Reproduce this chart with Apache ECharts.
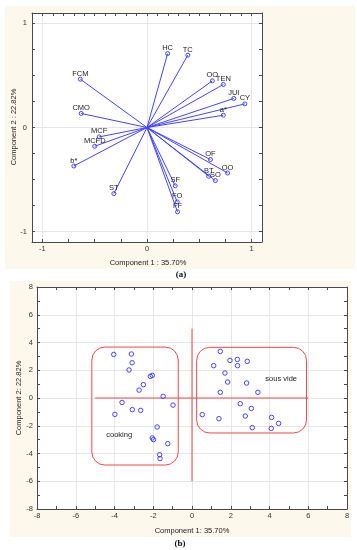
<!DOCTYPE html>
<html><head><meta charset="utf-8">
<script src="https://cdn.jsdelivr.net/npm/echarts@6/dist/echarts.min.js"></script>
<style>html,body{margin:0;padding:0;background:#fff}#c{width:357px;height:550px}</style>
</head><body><div id="c"></div>
<script>
// ---- Panel (a): loadings ----
const loadingNames = ['HC','TC','OO','TEN','JUI','CY','a*','FCM','CMO','MCF','MCFD','b*','ST','SF','FO','FF','OF','OO','BT','SO'];
const loadingX = [0.197,0.39,0.625,0.73,0.83,0.936,0.73,-0.638,-0.63,-0.457,-0.50,-0.70,-0.317,0.27,0.289,0.292,0.607,0.771,0.59,0.654];
const loadingY = [0.71,0.695,0.448,0.413,0.279,0.227,0.118,0.464,0.135,-0.09,-0.18,-0.37,-0.635,-0.56,-0.715,-0.81,-0.308,-0.437,-0.468,-0.51];
const aTickLabels = [-1, 0, 1];

// ---- Panel (b): scores ----
const cookingX = [-4.04,-3.13,-3.09,-3.25,-2.15,-2.05,-2.51,-2.73,-1.49,-3.61,-3.98,-3.08,-2.65,-0.98,-1.80,-2.05,-1.99,-1.25,-1.67,-1.65];
const cookingY = [3.14,3.17,2.54,2.02,1.56,1.63,0.96,0.57,0.12,-0.32,-1.18,-0.84,-0.89,-0.51,-2.09,-2.88,-3.00,-3.29,-4.09,-4.37];
const sousVideX = [1.46,1.96,2.34,2.85,1.12,2.35,1.70,1.84,2.82,1.46,3.40,2.49,3.06,0.53,1.39,2.75,4.11,4.47,3.11,4.09];
const sousVideY = [3.36,2.71,2.78,2.64,2.33,2.33,1.80,1.15,1.08,0.41,0.41,-0.41,-0.75,-1.20,-1.49,-1.30,-1.40,-1.83,-2.14,-2.19];
const groupNames = ['cooking','sous vide'];
// group boxes: [xMin, xMax, yMin, yMax]
const groupBoxes = [[-5.17,-0.71,-4.83,3.67],[0.24,5.91,-2.52,3.65]];
const hLine = [[-5,0],[6,0]];
const vLine = [[0,-6],[0,5]];
const groupLabelAt = [[-3.76,-2.67],[4.6,1.39]];

const BLUE = '#4444ff', RED = '#f04848', AXIS = '#4a4a4a', GRIDC = '#e6e6e6', CREAM = '#fdf8ec';
const FONT = '"Liberation Sans", Arial, sans-serif';
const FS = 7.5;

function range(a, b, s) { const r = []; const n = Math.round((b - a) / s); for (let i = 0; i <= n; i++) r.push(+(a + i * s).toFixed(4)); return r; }
const aTicksQuarter = range(-1, 1, 0.25);
const aTicksTenth = range(-1.1, 1.1, 0.1);

const lbl = {fontSize: FS, color: '#333', fontFamily: FONT};
const axLine = {onZero: false, lineStyle: {color: AXIS, width: 1}};

function aAxis(gridIndex, position, ticks, showLabel, isY) {
  return {type: 'value', gridIndex, position, min: -1.1, max: 1.1,
    axisLine: axLine,
    axisTick: {show: true, inside: true, length: 3, customValues: ticks, lineStyle: {color: AXIS}},
    axisLabel: showLabel ? Object.assign({customValues: aTickLabels, margin: isY ? 5 : 3}, lbl) : {show: false},
    splitLine: {show: false}};
}
function aGridAxis(position) {
  return {type: 'value', gridIndex: 0, position, min: -1.1, max: 1.1,
    axisLine: {show: false}, axisTick: {show: false, customValues: aTickLabels}, axisLabel: {show: false},
    splitLine: {show: true, lineStyle: {color: GRIDC, width: 1}}};
}
function bAxis(position, showLabel, isY) {
  return {type: 'value', gridIndex: 1, position, min: -8, max: 8, interval: 2,
    axisLine: axLine,
    axisTick: {show: true, inside: true, length: 3, lineStyle: {color: AXIS}},
    minorTick: {show: true, splitNumber: 2, length: 3, lineStyle: {color: AXIS}},
    axisLabel: showLabel ? Object.assign({margin: isY ? 4 : 3}, lbl) : {show: false},
    splitLine: {show: showLabel, lineStyle: {color: GRIDC, width: 1}}};
}

const chart = echarts.init(document.getElementById('c'), null, {renderer: 'canvas'});
const option = {
  animation: false,
  backgroundColor: '#fff',
  graphic: [
    {type: 'rect', z: -10, shape: {x: 5, y: 6, width: 350, height: 263}, style: {fill: CREAM}},
    {type: 'rect', z: -10, shape: {x: 10, y: 281, width: 341, height: 256}, style: {fill: CREAM}},
    {type: 'text', z: 100, x: 148, y: 262.5, style: {text: 'Component 1 : 35.70%', font: FS + 'px ' + FONT, fill: '#222', align: 'center', verticalAlign: 'middle'}},
    {type: 'text', z: 100, x: 14, y: 127, rotation: Math.PI / 2, style: {text: 'Component 2 : 22.82%', font: FS + 'px ' + FONT, fill: '#222', align: 'center', verticalAlign: 'middle'}},
    {type: 'text', z: 100, x: 192, y: 530.5, style: {text: 'Component 1: 35.70%', font: FS + 'px ' + FONT, fill: '#222', align: 'center', verticalAlign: 'middle'}},
    {type: 'text', z: 100, x: 19, y: 398, rotation: Math.PI / 2, style: {text: 'Component 2: 22.82%', font: FS + 'px ' + FONT, fill: '#222', align: 'center', verticalAlign: 'middle'}},
    {type: 'text', z: 100, x: 181, y: 275, style: {text: '(a)', font: 'bold 9px "Liberation Serif", "Times New Roman", serif', fill: '#111', align: 'center', verticalAlign: 'middle'}},
    {type: 'text', z: 100, x: 180, y: 544, style: {text: '(b)', font: 'bold 9px "Liberation Serif", "Times New Roman", serif', fill: '#111', align: 'center', verticalAlign: 'middle'}}
  ],
  grid: [
    {left: 32, top: 13, width: 230, height: 229, show: true, backgroundColor: '#fff', borderWidth: 0},
    {left: 37, top: 287, width: 310, height: 222, show: true, backgroundColor: '#fff', borderWidth: 0}
  ],
  xAxis: [
    aAxis(0, 'bottom', aTicksQuarter, true, false),
    aAxis(0, 'top', aTicksTenth, false, false),
    aGridAxis('bottom'),
    bAxis('bottom', true, false),
    bAxis('top', false, false)
  ],
  yAxis: [
    aAxis(0, 'left', aTicksQuarter, true, true),
    aAxis(0, 'right', aTicksQuarter, false, true),
    aGridAxis('left'),
    bAxis('left', true, true),
    bAxis('right', false, true)
  ],
  series: [
    {
      type: 'custom', xAxisIndex: 0, yAxisIndex: 0, z: 5,
      data: loadingX.map((x, i) => [x, loadingY[i], i]),
      renderItem(params, api) {
        const o = api.coord([0, 0]);
        const p = api.coord([api.value(0), api.value(1)]);
        const name = loadingNames[api.value(2)];
        return {type: 'group', children: [
          {type: 'line', shape: {x1: o[0], y1: o[1], x2: p[0], y2: p[1]}, style: {stroke: BLUE, lineWidth: 1}},
          {type: 'circle', shape: {cx: p[0], cy: p[1], r: 2}, style: {stroke: BLUE, fill: 'rgba(255,255,255,0)', lineWidth: 1}},
          {type: 'text', x: p[0], y: p[1] - 1.5, style: {text: name, font: FS + 'px ' + FONT, fill: '#222', align: 'center', verticalAlign: 'bottom'}}
        ]};
      }
    },
    {
      type: 'custom', xAxisIndex: 3, yAxisIndex: 3, z: 3,
      data: groupBoxes.map((b, i) => [b[0], b[1], b[2], b[3], i]),
      renderItem(params, api) {
        const p1 = api.coord([api.value(0), api.value(3)]);
        const p2 = api.coord([api.value(1), api.value(2)]);
        const i = api.value(4);
        const t = api.coord(groupLabelAt[i]);
        return {type: 'group', children: [
          {type: 'rect', shape: {x: p1[0], y: p1[1], width: p2[0] - p1[0], height: p2[1] - p1[1], r: 13}, style: {stroke: RED, fill: 'none', lineWidth: 1}},
          {type: 'text', x: t[0], y: t[1], style: {text: groupNames[i], font: FS + 'px ' + FONT, fill: '#222', align: 'center', verticalAlign: 'middle'}}
        ]};
      }
    },
    {type: 'line', xAxisIndex: 3, yAxisIndex: 3, data: hLine, symbol: 'none', lineStyle: {color: RED, width: 1}, z: 3},
    {type: 'line', xAxisIndex: 3, yAxisIndex: 3, data: vLine, symbol: 'none', lineStyle: {color: RED, width: 1}, z: 3},
    {type: 'scatter', name: groupNames[0], xAxisIndex: 3, yAxisIndex: 3, z: 5, symbol: 'circle', symbolSize: 4.5,
      itemStyle: {color: 'rgba(255,255,255,0)', borderColor: BLUE, borderWidth: 1, opacity: 1}, data: cookingX.map((x, i) => [x, cookingY[i]])},
    {type: 'scatter', name: groupNames[1], xAxisIndex: 3, yAxisIndex: 3, z: 5, symbol: 'circle', symbolSize: 4.5,
      itemStyle: {color: 'rgba(255,255,255,0)', borderColor: BLUE, borderWidth: 1, opacity: 1}, data: sousVideX.map((x, i) => [x, sousVideY[i]])}
  ]
};
chart.setOption(option);
</script></body></html>
